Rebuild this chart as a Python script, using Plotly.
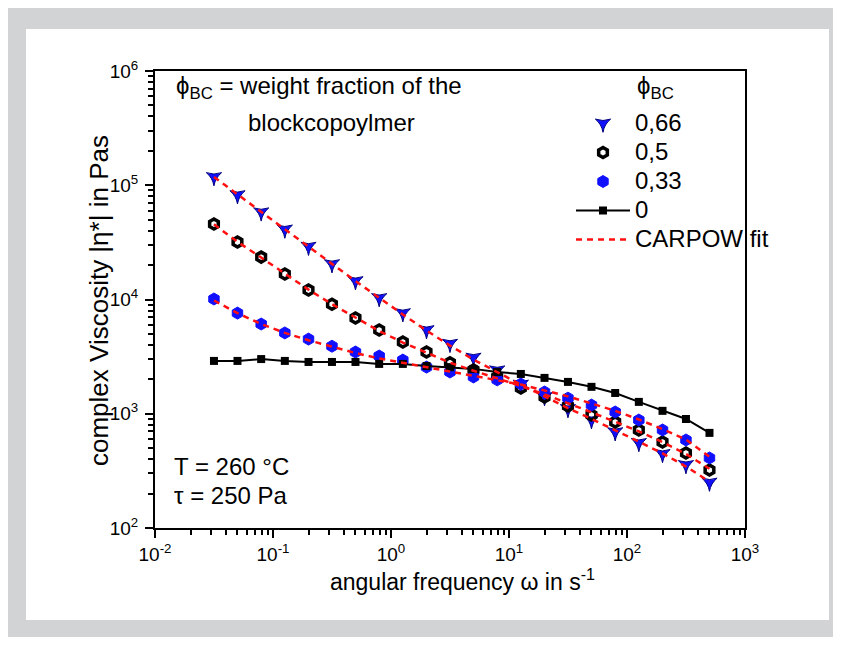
import plotly.graph_objects as go

# ---------------- data ----------------
omega = [0.0316, 0.05, 0.0794, 0.126, 0.2, 0.316, 0.5, 0.794, 1.26, 2.0, 3.16,
         5.0, 7.94, 12.6, 20.0, 31.6, 50.0, 79.4, 126.0, 200.0, 316.0, 500.0]

eta_066 = [1.18e5, 8.2e4, 5.8e4, 4.1e4, 2.9e4, 2.04e4, 1.45e4, 1.03e4, 7.6e3, 5.4e3, 4.1e3,
           3.1e3, 2.4e3, 1.8e3, 1.4e3, 1.1e3, 880, 690, 555, 445, 356, 250]
eta_05 = [4.58e4, 3.19e4, 2.35e4, 1.67e4, 1.21e4, 9.1e3, 6.9e3, 5.4e3, 4.25e3, 3.47e3, 2.8e3,
          2.42e3, 2.1e3, 1.68e3, 1.4e3, 1.17e3, 975, 847, 721, 566, 454, 322]
eta_033 = [1.01e4, 7.6e3, 6.1e3, 5.1e3, 4.5e3, 3.9e3, 3.47e3, 3.2e3, 2.95e3, 2.56e3, 2.32e3,
           2.1e3, 1.98e3, 1.82e3, 1.55e3, 1.37e3, 1.19e3, 1.036e3, 881, 721, 589, 410]
eta_0 = [2.9e3, 2.9e3, 3.01e3, 2.9e3, 2.84e3, 2.84e3, 2.84e3, 2.73e3, 2.73e3, 2.62e3, 2.56e3,
         2.47e3, 2.32e3, 2.23e3, 2.06e3, 1.9e3, 1.72e3, 1.52e3, 1.27e3, 1.06e3, 900, 680]

fit_066 = [1.18e5, 8.3e4, 5.85e4, 4.1e4, 2.9e4, 2.05e4, 1.45e4, 1.03e4, 7.4e3, 5.35e3, 3.95e3,
           2.98e3, 2.3e3, 1.8e3, 1.42e3, 1.12e3, 900, 720, 570, 450, 345, 255]
fit_05 = [4.55e4, 3.2e4, 2.33e4, 1.68e4, 1.22e4, 9.1e3, 6.9e3, 5.3e3, 4.2e3, 3.4e3, 2.8e3,
          2.38e3, 2.05e3, 1.75e3, 1.48e3, 1.24e3, 1.03e3, 850, 700, 565, 445, 330]
fit_033 = [9.8e3, 7.6e3, 6.1e3, 5.1e3, 4.4e3, 3.85e3, 3.4e3, 3.05e3, 2.78e3, 2.55e3, 2.34e3,
           2.15e3, 1.97e3, 1.8e3, 1.6e3, 1.42e3, 1.23e3, 1.06e3, 890, 735, 595, 420]

x_tickvals = [0.01, 0.1, 1, 10, 100, 1000]
x_ticktext = ["10<sup>-2</sup>", "10<sup>-1</sup>", "10<sup>0</sup>", "10<sup>1</sup>",
              "10<sup>2</sup>", "10<sup>3</sup>"]
y_tickvals = [1e2, 1e3, 1e4, 1e5, 1e6]
y_ticktext = ["10<sup>2</sup>", "10<sup>3</sup>", "10<sup>4</sup>", "10<sup>5</sup>", "10<sup>6</sup>"]

series_names = ["0,66", "0,5", "0,33", "0", "CARPOW fit"]
x_title = "angular frequency ω in s<sup>-1</sup>"
y_title = "complex Viscosity |η*| in Pas"

# ---------------- figure ----------------
FONT = "Liberation Sans, Arial, sans-serif"
BLUE = "#1010ff"
TXT = 24


def big(s):
    return '<span style="font-size:%dpx">%s</span>' % (TXT, s)


fig = go.Figure()

fig.add_trace(go.Scatter(x=omega, y=eta_066, mode="markers", name=big(series_names[0]),
                         marker=dict(symbol="star-triangle-down", size=11, color=BLUE,
                                     line=dict(color="#000080", width=1))))
fig.add_trace(go.Scatter(x=omega, y=eta_05, mode="markers", name=big(series_names[1]),
                         marker=dict(symbol="hexagon-open", size=10, color="black",
                                     line=dict(color="black", width=3.5))))
fig.add_trace(go.Scatter(x=omega, y=eta_033, mode="markers", name=big(series_names[2]),
                         marker=dict(symbol="hexagon", size=12, color=BLUE,
                                     line=dict(color=BLUE, width=1))))
fig.add_trace(go.Scatter(x=omega, y=eta_0, mode="lines+markers", name=big(series_names[3]),
                         line=dict(color="black", width=2),
                         marker=dict(symbol="square", size=8, color="black")))

for i, fit in enumerate([fit_066, fit_05, fit_033]):
    fig.add_trace(go.Scatter(x=omega, y=fit, mode="lines", name=big(series_names[4]),
                             legendgroup="fit", showlegend=(i == 0),
                             line=dict(color="#ff1010", width=2.5, dash="6px,5px")))


# page pixel -> paper coordinate (plot area spans x 155..745, y 71..528 on the page)
def X(px):
    return (px - 155) / 590.0


def Y(py):
    return (528 - py) / 457.0


shapes = [
    dict(type="rect", xref="paper", yref="paper", x0=X(4), x1=X(838), y0=Y(637), y1=Y(7),
         fillcolor="#d2d3d5", line=dict(width=0), layer="below"),
    dict(type="rect", xref="paper", yref="paper", x0=X(26), x1=X(829), y0=Y(620), y1=Y(29),
         fillcolor="white", line=dict(width=0), layer="below"),
]


def ann(text, px, py, xanchor="center", size=TXT, angle=0):
    return dict(text=text, x=X(px), y=Y(py), xref="paper", yref="paper",
                xanchor=xanchor, yanchor="middle", showarrow=False, textangle=angle,
                font=dict(size=size, family=FONT, color="black"))


annotations = [
    ann("ϕ<sub>BC</sub> = weight fraction of the", 319, 87),
    ann("blockcopoylmer", 331, 122),
    ann("ϕ<sub>BC</sub>", 655, 87),
    ann("T = 260 °C", 172, 466, "left"),
    ann("τ = 250 Pa", 172, 495, "left"),
    ann(x_title, 462, 580, size=23),
    ann(y_title, 99, 301, size=26, angle=-90),
]

minor_x = [m * 10 ** k for k in range(-2, 3) for m in range(2, 10)]
minor_y = [m * 10 ** k for k in range(2, 6) for m in range(2, 10)]

axis_common = dict(type="log", showgrid=False, zeroline=False, showline=True,
                   linecolor="black", linewidth=2, mirror=True, ticks="outside",
                   ticklen=8, tickwidth=2, tickcolor="black",
                   tickfont=dict(size=19, family=FONT, color="black"))

# the page body has an 8px margin, so the figure is offset by 8px
fig.update_layout(
    width=833, height=637,
    margin=dict(l=147, r=96, t=63, b=117),
    paper_bgcolor="white", plot_bgcolor="white",
    font=dict(family=FONT, color="black"),
    showlegend=True,
    legend=dict(x=X(571), y=Y(104), xanchor="left", yanchor="top",
                bgcolor="rgba(0,0,0,0)", font=dict(size=20, family=FONT, color="black"),
                itemwidth=54, tracegroupgap=0),
    shapes=shapes,
    annotations=annotations,
    xaxis=dict(range=[-2, 3], tickmode="array", tickvals=x_tickvals, ticktext=x_ticktext,
               minor=dict(tickmode="array", tickvals=minor_x, ticks="outside", ticklen=5,
                          tickwidth=1.5, tickcolor="black"),
               **axis_common),
    yaxis=dict(range=[2, 6], tickmode="array", tickvals=y_tickvals, ticktext=y_ticktext,
               ticklabelstandoff=3,
               minor=dict(tickmode="array", tickvals=minor_y, ticks="outside", ticklen=5,
                          tickwidth=1.5, tickcolor="black"),
               **axis_common),
)

fig.write_html("out.html")
